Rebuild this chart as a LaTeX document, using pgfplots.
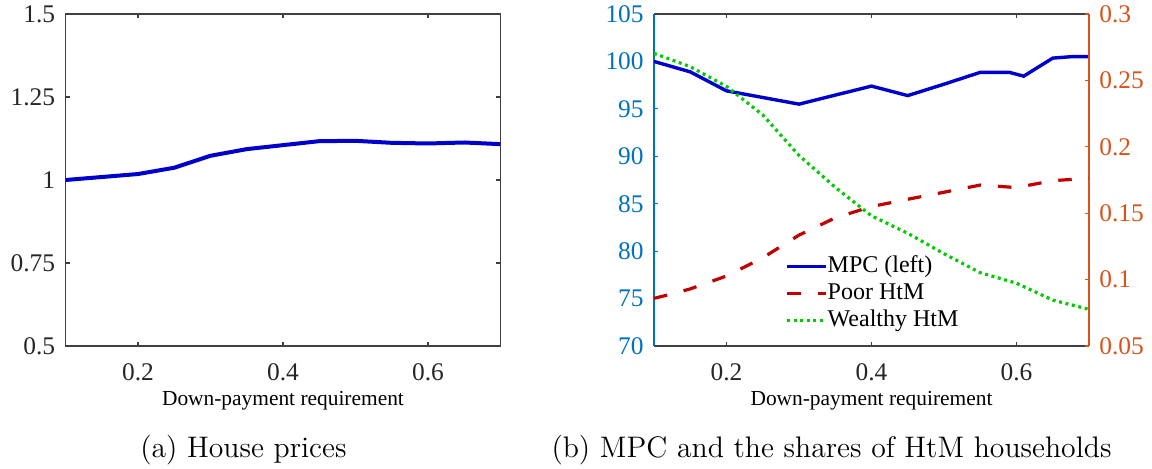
\documentclass[border=0pt]{standalone}
\usepackage{fontspec}
\usepackage{pgfplots}
\pgfplotsset{compat=1.18}
\newfontfamily\tnr{Liberation Serif}

\definecolor{mblue}{RGB}{0,114,189}
\definecolor{morange}{RGB}{217,83,25}
\definecolor{lblue}{RGB}{0,0,204}
\definecolor{dred}{RGB}{192,0,0}
\definecolor{lgreen}{RGB}{0,204,0}
\definecolor{agray}{RGB}{64,64,64}

\pgfplotsset{
  panel/.style={
    scale only axis, width=217.5pt, height=166pt, anchor=south west,
    xmin=0.1, xmax=0.7,
    xtick={0.2,0.4,0.6}, xticklabels={\mbox{0.2},\mbox{0.4},\mbox{0.6}},
    tick align=inside, major tick length=2pt,
    /pgf/number format/assume math mode=true,
    tick label style={font=\tnr\fontsize{12.7}{12.7}\selectfont, inner sep=0pt},
    xticklabel style={anchor=base, yshift=-17pt, text=black!85},
    xlabel={Down-payment requirement},
    xlabel style={font=\tnr\fontsize{10.7}{10.7}\selectfont,
      at={(axis description cs:0.5,0)}, anchor=base, yshift=-29.5pt},
    axis line style={draw=agray, line width=0.6pt},
    xtick style={draw=agray, line width=0.6pt},
  },
}

\begin{document}
\begin{tikzpicture}
\useasboundingbox (0,0) rectangle (576pt,234pt);

% (a) house prices
\begin{axis}[panel, at={(32.75pt,61pt)},
    ymin=0.5, ymax=1.5,
    ytick={0.5,0.75,1,1.25,1.5},
    yticklabels={\mbox{0.5},\mbox{0.75},\mbox{1},\mbox{1.25},\mbox{1.5}},
    yticklabel style={anchor=east, xshift=-5pt, text=black!85},
    ytick style={draw=agray, line width=0.6pt},
    xtick pos=both, ytick pos=both, ticklabel pos=left,
]
\addplot[lblue, line width=2pt] coordinates {
  (0.10,1.000) (0.15,1.009) (0.20,1.018) (0.25,1.037) (0.30,1.073)
  (0.35,1.093) (0.40,1.105) (0.45,1.117) (0.50,1.118) (0.55,1.112)
  (0.60,1.110) (0.65,1.113) (0.70,1.108)
};
\end{axis}

% (b) MPC, left axis
\begin{axis}[panel, at={(327pt,61pt)},
    axis x line*=box, axis y line*=left, xtick pos=both,
    ymin=70, ymax=105,
    ytick={70,75,80,85,90,95,100,105},
    yticklabels={\mbox{70},\mbox{75},\mbox{80},\mbox{85},\mbox{90},\mbox{95},\mbox{100},\mbox{105}},
    y axis line style={draw=mblue},
    ytick style={draw=mblue, line width=0.6pt},
    yticklabel style={anchor=east, xshift=-5pt, text=mblue},
]
\addplot[lblue, line width=1.7pt] coordinates {
  (0.10,100.0) (0.15,98.9) (0.20,96.9) (0.25,96.2) (0.30,95.5)
  (0.35,96.45) (0.40,97.4) (0.45,96.4) (0.50,97.6) (0.55,98.85)
  (0.59,98.85) (0.61,98.45) (0.65,100.35) (0.675,100.5) (0.70,100.5)
};
\end{axis}

% (b) shares of HtM, right axis
\begin{axis}[panel, at={(327pt,61pt)},
    axis x line=none, axis y line*=right, xlabel={},
    ymin=0.05, ymax=0.3,
    ytick={0.05,0.1,0.15,0.2,0.25,0.3},
    yticklabels={\mbox{0.05},\mbox{0.1},\mbox{0.15},\mbox{0.2},\mbox{0.25},\mbox{0.3}},
    y axis line style={draw=morange},
    ytick style={draw=morange, line width=0.6pt},
    yticklabel style={anchor=west, xshift=5pt, text=morange},
    legend image code/.code={\draw[#1] (0pt,0pt) -- (19.5pt,0pt);},
    legend cell align=left,
    legend style={at={(axis description cs:0.301,0.277)}, anchor=north west,
      draw=none, fill=none, inner sep=0pt, row sep=1.5pt,
      font=\tnr\fontsize{12}{12}\selectfont,
      nodes={inner sep=0pt, text height=9pt, text depth=3pt},
      /tikz/every even column/.append style={column sep=1.8pt}},
]
\addlegendimage{lblue, line width=1.7pt}
\addlegendentry{MPC (left)}
\addplot[dred, line width=1.6pt, dash pattern=on 6.75pt off 8.5pt] coordinates {
  (0.10,0.0859) (0.125,0.0892) (0.15,0.0930) (0.20,0.1027) (0.25,0.1164)
  (0.30,0.1335) (0.35,0.1465) (0.40,0.1550) (0.45,0.1605) (0.50,0.1658)
  (0.55,0.1712) (0.60,0.1693) (0.65,0.1745) (0.70,0.1763)
};
\addlegendentry{Poor HtM}
\addplot[lgreen, line width=1.6pt, dash pattern=on 1.5pt off 1.8pt] coordinates {
  (0.10,0.2704) (0.15,0.2603) (0.20,0.2455) (0.25,0.2240) (0.30,0.1935)
  (0.35,0.1695) (0.40,0.1480) (0.45,0.1349) (0.50,0.1195) (0.55,0.1052)
  (0.60,0.0973) (0.65,0.0846) (0.70,0.0776)
};
\addlegendentry{Wealthy HtM}
\end{axis}

\node[font=\fontsize{14.85}{14.85}\selectfont, anchor=base] at (121.7pt,5.35pt) {(a) House prices};
\node[font=\fontsize{14.85}{14.85}\selectfont, anchor=base] at (415.75pt,5.35pt) {(b) MPC and the shares of HtM households};
\end{tikzpicture}
\end{document}
